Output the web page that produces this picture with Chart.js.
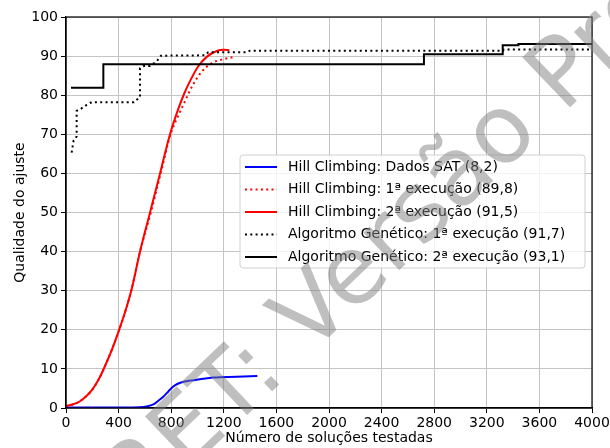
<!DOCTYPE html>
<html lang="pt">
<head>
<meta charset="UTF-8">
<title>Qualidade do ajuste</title>
<script src="https://cdn.jsdelivr.net/npm/chart.js"></script>
<style>
  html, body { margin: 0; padding: 0; background: #fff; }
  #wrap { width: 610px; height: 448px; }
</style>
</head>
<body>
<div id="wrap"><canvas id="myChart" width="610" height="448"></canvas></div>
<script>
// series labels
var seriesNames = [
    'Hill Climbing: Dados SAT (8,2)',
    'Hill Climbing: 1ª execução (89,8)',
    'Hill Climbing: 2ª execução (91,5)',
    'Algoritmo Genético: 1ª execução (91,7)',
    'Algoritmo Genético: 2ª execução (93,1)'
];

// Hill Climbing, dados SAT
var hcSatX = [0, 300, 560, 613, 664, 700, 740, 780, 816, 850, 880, 940, 994, 1120, 1298, 1455];
var hcSatY = [0.1, 0.1, 0.2, 0.4, 0.9, 1.8, 2.9, 4.3, 5.5, 6.2, 6.6, 7.0, 7.2, 7.8, 8.0, 8.2];

// Hill Climbing, 1a execucao
var hc1X = [0, 50, 100, 150, 200, 250, 300, 350, 400, 450, 500, 563, 645, 720, 795, 850, 892, 930, 968, 1032, 1108, 1196, 1285];
var hc1Y = [0.5, 0.9, 1.6, 2.9, 4.7, 7.4, 11, 15, 19.6, 24.6, 30.5, 40, 50, 60, 70, 74.5, 77.5, 80.3, 82.8, 86, 88.2, 89.2, 89.8];

// Hill Climbing, 2a execucao
var hc2X = [0, 50, 100, 150, 200, 250, 300, 350, 400, 450, 500, 563, 639, 715, 791, 854, 900, 943, 1006, 1070, 1146, 1200, 1242];
var hc2Y = [0.5, 0.9, 1.6, 2.9, 4.7, 7.4, 11, 15, 19.6, 24.6, 30.5, 40, 50, 60, 70, 76.5, 80.5, 83.6, 87.4, 89.8, 91.3, 91.6, 91.5];

// Algoritmo Genetico, 1a execucao
var ag1X = [43, 50, 58, 70, 81, 81, 112, 157, 195, 517, 550, 563, 563, 593, 639, 689, 722, 1057, 1082, 1374, 1399, 3323, 3330, 4000];
var ag1Y = [65.3, 66.8, 68.4, 68.8, 69.5, 76, 76.5, 77.5, 78.2, 78.2, 79.2, 79.5, 86.9, 87.5, 87.5, 88.6, 90.1, 90.2, 91.0, 91.0, 91.4, 91.4, 91.7, 91.7];

// Algoritmo Genetico, 2a execucao
var ag2X = [38, 284, 284, 2722, 2722, 3321, 3321, 3440, 3440, 4000];
var ag2Y = [81.9, 81.9, 87.9, 87.9, 90.5, 90.5, 92.8, 92.8, 93.1, 93.1];

var seriesX = [hcSatX, hc1X, hc2X, ag1X, ag2X];
var seriesY = [hcSatY, hc1Y, hc2Y, ag1Y, ag2Y];
var colors = ['#0000ff', '#ff0000', '#ff0000', '#000000', '#000000'];
var dashes = [[], [2, 3.3], [], [2, 3.3], []];
var smooth = [true, true, true, false, false];

var FONT = 'DejaVu Sans';

function toPoints(xs, ys) {
    return xs.map(function (x, i) { return { x: x, y: ys[i] }; });
}

var datasets = seriesNames.map(function (name, i) {
    return {
        label: name,
        data: toPoints(seriesX[i], seriesY[i]),
        showLine: true,
        borderColor: colors[i],
        backgroundColor: colors[i],
        borderWidth: 2,
        borderDash: dashes[i],
        pointRadius: 0,
        cubicInterpolationMode: smooth[i] ? 'monotone' : 'default',
        tension: 0,
        order: seriesNames.length - i
    };
});

// frame, legend box and watermark
var extras = {
    id: 'extras',
    afterDatasetsDraw: function (chart) {
        var ctx = chart.ctx, a = chart.chartArea;
        ctx.save();
        ctx.strokeStyle = '#000';
        ctx.lineWidth = 1.2;
        ctx.strokeRect(a.left, a.top, a.right - a.left, a.bottom - a.top);

        // legend
        var bx = 240, by = 155, bw = 345, bh = 113, r = 3;
        ctx.beginPath();
        ctx.moveTo(bx + r, by);
        ctx.arcTo(bx + bw, by, bx + bw, by + bh, r);
        ctx.arcTo(bx + bw, by + bh, bx, by + bh, r);
        ctx.arcTo(bx, by + bh, bx, by, r);
        ctx.arcTo(bx, by, bx + bw, by, r);
        ctx.closePath();
        ctx.fillStyle = 'rgba(255,255,255,0.8)';
        ctx.fill();
        ctx.strokeStyle = '#d0d0d0';
        ctx.lineWidth = 1;
        ctx.stroke();

        ctx.font = '14px "' + FONT + '"';
        ctx.textBaseline = 'middle';
        ctx.textAlign = 'left';
        for (var i = 0; i < seriesNames.length; i++) {
            var yy = by + 12 + i * 22.5;
            ctx.beginPath();
            ctx.setLineDash(dashes[i]);
            ctx.strokeStyle = colors[i];
            ctx.lineWidth = 2;
            ctx.moveTo(bx + 5, yy);
            ctx.lineTo(bx + 37, yy);
            ctx.stroke();
            ctx.setLineDash([]);
            ctx.fillStyle = '#000';
            ctx.fillText(seriesNames[i], bx + 48, yy);
        }
        ctx.restore();
    },
    afterDraw: function (chart) {
        var ctx = chart.ctx;
        ctx.save();
        ctx.translate(309, 356);
        ctx.rotate(-43.6 * Math.PI / 180);
        ctx.font = '95px "' + FONT + '"';
        ctx.fillStyle = 'rgba(128,128,128,0.5)';
        ctx.textBaseline = 'alphabetic';
        ctx.textAlign = 'left';
        ctx.fillText('Versão Preliminar', 0, 0);
        ctx.textAlign = 'right';
        ctx.fillText('PRET: ', 0, 0);
        ctx.restore();
    }
};

var tickFont = { family: FONT, size: 14 };

new Chart(document.getElementById('myChart'), {
    type: 'scatter',
    data: { datasets: datasets },
    options: {
        responsive: false,
        animation: false,
        events: [],
        layout: { padding: { top: 17, right: 18, left: 0, bottom: 0 } },
        plugins: { legend: { display: false }, tooltip: { enabled: false } },
        scales: {
            x: {
                type: 'linear',
                min: 0, max: 4000,
                ticks: {
                    stepSize: 400, color: '#000', font: tickFont, padding: 2, maxRotation: 0,
                    callback: function (v) { return String(v); }
                },
                grid: { color: '#c4c4c4', lineWidth: 1, tickLength: 5, tickColor: '#000' },
                border: { color: '#000', width: 1.2 },
                title: { display: true, text: 'Número de soluções testadas', color: '#000', font: tickFont, padding: { top: 0, bottom: 1 } },
                afterFit: function (s) { s.height = 40; s.paddingLeft = 0; s.paddingRight = 0; }
            },
            y: {
                min: 0, max: 100,
                ticks: { stepSize: 10, color: '#000', font: tickFont, padding: 3 },
                grid: { color: '#c4c4c4', lineWidth: 1, tickLength: 5, tickColor: '#000' },
                border: { color: '#000', width: 1.2 },
                title: { display: true, text: 'Qualidade do ajuste', color: '#000', font: tickFont, padding: { top: 12, bottom: 0 } },
                afterFit: function (s) { s.width = 66; s.paddingTop = 0; s.paddingBottom = 0; }
            }
        }
    },
    plugins: [extras]
});
</script>
</body>
</html>
